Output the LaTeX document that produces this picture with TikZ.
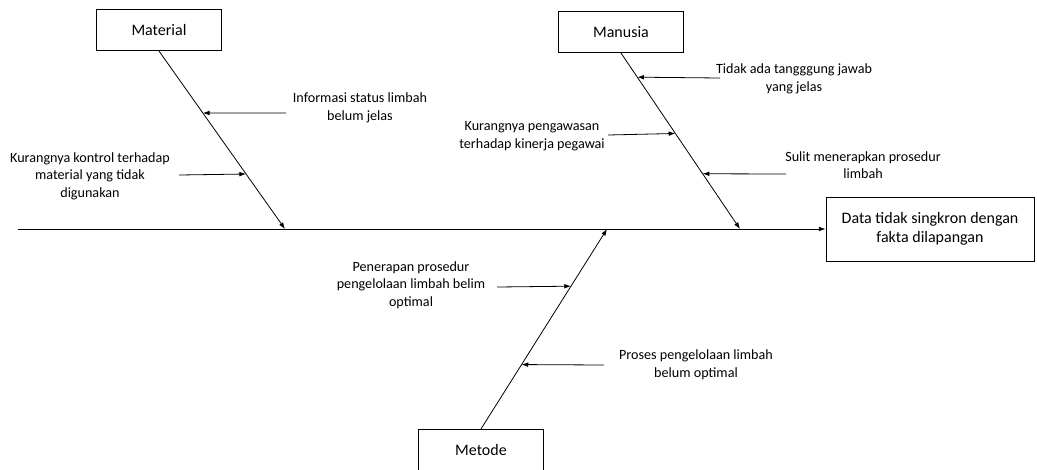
\documentclass[tikz,border=0pt]{standalone}
\usepackage{fontspec}
\setmainfont{Carlito}
\usetikzlibrary{arrows.meta, calc}

\begin{document}
\begin{tikzpicture}[
		x=0.75pt, y=-0.75pt,
		line width=0.6pt,
		catbox/.style={
			draw,
			align=center,
			font=\fontsize{12}{14}\selectfont,
			minimum height=31pt,
			minimum width=94pt
		},
		effectbox/.style={
			draw,
			align=center,
			font=\fontsize{12}{14.5}\selectfont,
			minimum height=48pt,
			minimum width=156pt
		},
		cause/.style={
			align=center,
			inner sep=0pt,
			font=\fontsize{10.6}{13.2}\selectfont
		},
		arrow/.style={-{Latex[length=5pt,width=3.5pt]}}
		]
		
		\useasboundingbox (0,0) rectangle (1037,469);
		
		% Blocks
		\node[catbox] at (159,30) (material) {Material};
		\node[catbox] at (621,32) (manusia) {Manusia};
		\node[catbox] at (481,450) (metode) {Metode};
		\node[effectbox] at (930,229) (effect) {Data tidak singkron dengan\\fakta dilapangan};
		
		% Spine
		\coordinate (tail) at (18,229);
		\coordinate (jmat) at (285,229);
		\coordinate (jman) at (740,229);
		\coordinate (jmet) at (607,229);
		\draw[arrow] (tail) -- (effect.west);
		
		% Bones
		\draw[arrow] (material.south) -- (jmat);
		\draw[arrow] (manusia.south) -- (jman);
		\draw[arrow] (metode.north) -- (jmet);
		
		% Material causes
		\node[cause] at (360,108) (mat1) {Informasi status limbah\\belum jelas};
		\node[cause] at (90,176) (mat2) {Kurangnya kontrol terhadap\\material yang tidak\\digunakan};
		\coordinate (m1) at (286,113);
		\coordinate (m2) at (179,175);
		\draw[arrow] (m1) -- ($(material.south)!0.348!(jmat)$);
		\draw[arrow] (m2) -- ($(material.south)!0.691!(jmat)$);
		
		% Manusia causes
		\node[cause] at (794,79) (man1) {Tidak ada tangggung jawab\\yang jelas};
		\node[cause] at (532,136) (man2) {Kurangnya pengawasan\\terhadap kinerja pegawai};
		\node[cause] at (863,165) (man3) {Sulit menerapkan prosedur\\limbah};
		\coordinate (u1) at (720,78);
		\coordinate (u2) at (608,135);
		\coordinate (u3) at (786,174);
		\draw[arrow] (u1) -- ($(manusia.south)!0.137!(jman)$);
		\draw[arrow] (u2) -- ($(manusia.south)!0.457!(jman)$);
		\draw[arrow] (u3) -- ($(manusia.south)!0.686!(jman)$);
		
		% Metode causes
		\node[cause] at (411,285) (met1) {Penerapan prosedur\\pengelolaan limbah belim\\optimal};
		\node[cause] at (696,365) (met2) {Proses pengelolaan limbah\\belum optimal};
		\coordinate (t1) at (497,287);
		\coordinate (t2) at (604,365);
		\draw[arrow] (t1) -- ($(metode.north)!0.714!(jmet)$);
		\draw[arrow] (t2) -- ($(metode.north)!0.322!(jmet)$);
		
	\end{tikzpicture}
\end{document}
